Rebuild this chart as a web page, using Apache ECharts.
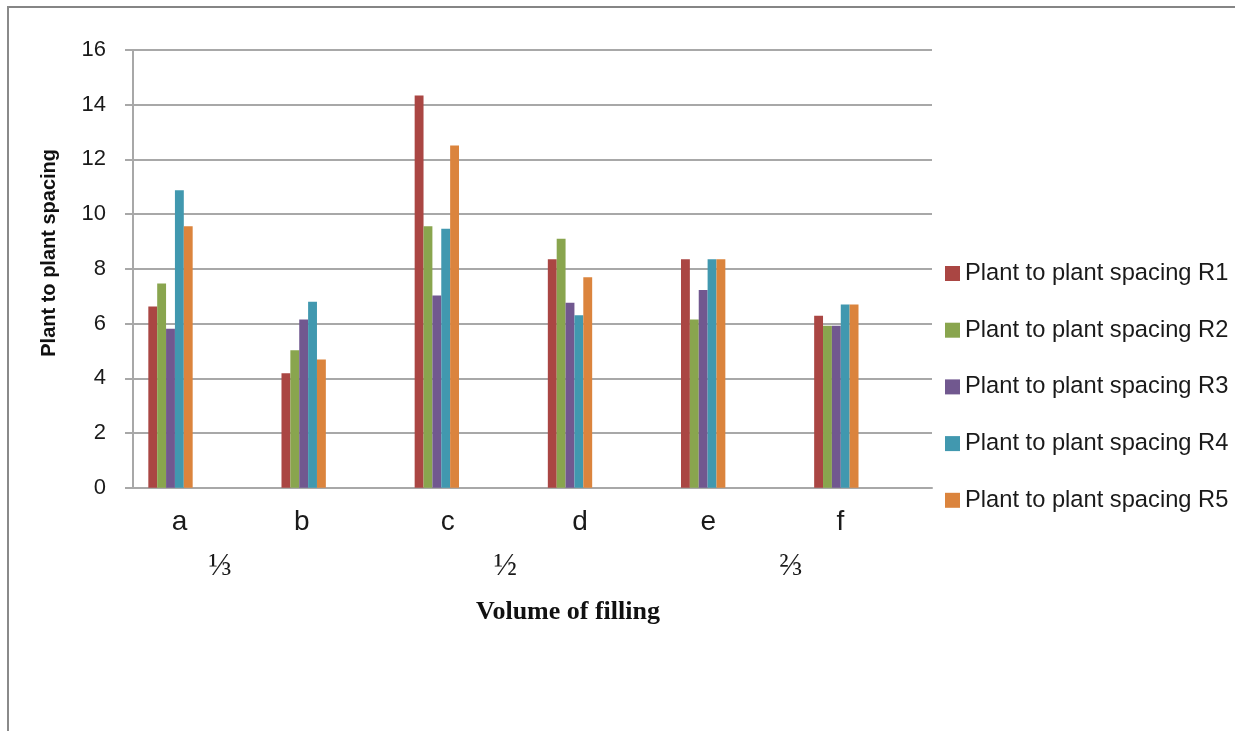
<!DOCTYPE html>
<html>
<head>
<meta charset="utf-8">
<title>Plant to plant spacing</title>
<script src="https://cdn.jsdelivr.net/npm/echarts/dist/echarts.min.js"></script>
<style>
  html, body { margin: 0; padding: 0; background: #ffffff; }
  #chart { width: 1235px; height: 731px; }
</style>
</head>
<body>
<div id="chart"></div>
<script>
// Categories along the x axis and the filling-volume groups beneath them
const categories = ['a', 'b', 'c', 'd', 'e', 'f'];
const fillingGroups = ['\u2153', '\u00BD', '\u2154'];

// Replicate series
const seriesNames = [
  'Plant to plant spacing R1',
  'Plant to plant spacing R2',
  'Plant to plant spacing R3',
  'Plant to plant spacing R4',
  'Plant to plant spacing R5'
];
const spacingR1 = [6.62, 4.18, 14.34, 8.35, 8.35, 6.29];
const spacingR2 = [7.46, 5.02, 9.56, 9.10, 6.15, 5.92];
const spacingR3 = [5.81, 6.15, 7.03, 6.76, 7.23, 5.92];
const spacingR4 = [10.87, 6.80, 9.47, 6.30, 8.35, 6.70];
const spacingR5 = [9.56, 4.69, 12.51, 7.69, 8.35, 6.70];

// Value axis range and step
const yMin = 0;
const yMax = 16;
const yStep = 2;

// ---- layout & style ----
const colors = ['#AA4643', '#89A54E', '#71588F', '#4198AF', '#DB843D'];
const sansFont = "'Liberation Sans', Arial, sans-serif";
const serifFont = "'Liberation Serif', 'DejaVu Serif', 'Times New Roman', serif";
const gridColor = '#a8a8a8';

const plotTop = 50;
const plotBottom = 731 - 487.7;
const bandWidth = 799 / 6;
// small horizontal nudges for the category and group labels (px)
const catLabelShift = [9, -2, 11, 10, 5, 4];
const groupLabelShift = [-17, 2, 21];

function shiftedRich(shifts, base) {
  const rich = {};
  shifts.forEach(function (d, i) {
    rich['s' + i] = Object.assign({}, base, {
      padding: d >= 0 ? [0, 0, 0, 2 * d] : [0, -2 * d, 0, 0]
    });
  });
  return rich;
}

const catLabelStyle = { fontFamily: sansFont, fontSize: 28, color: '#1a1a1a' };
const groupLabelStyle = { fontFamily: serifFont, fontSize: 31, color: '#1a1a1a' };

const seriesData = [spacingR1, spacingR2, spacingR3, spacingR4, spacingR5];

const chart = echarts.init(document.getElementById('chart'), null, { renderer: 'canvas' });

chart.setOption({
  backgroundColor: '#ffffff',
  animation: false,
  color: colors,
  grid: [
    // frame with the value axis and gridlines
    { left: 133, right: 1235 - 932, top: plotTop, bottom: plotBottom, outerBoundsMode: 'none' },
    // bar clusters
    { left: 170.5 - bandWidth / 2, width: bandWidth * 6, top: plotTop, bottom: plotBottom, outerBoundsMode: 'none' }
  ],
  xAxis: [
    {
      gridIndex: 0, type: 'category', data: categories,
      axisLine: { show: true, lineStyle: { color: gridColor, width: 2 } },
      axisTick: { show: false }, axisLabel: { show: false }, splitLine: { show: false }
    },
    {
      gridIndex: 1, type: 'category', data: categories, position: 'bottom',
      axisLine: { show: false }, axisTick: { show: false }, splitLine: { show: false },
      axisLabel: {
        margin: 21,
        formatter: function (v, i) { return '{s' + i + '|' + v + '}'; },
        rich: shiftedRich(catLabelShift, catLabelStyle)
      }
    },
    {
      gridIndex: 1, type: 'category', data: fillingGroups, position: 'bottom',
      axisLine: { show: false }, axisTick: { show: false }, splitLine: { show: false },
      axisLabel: {
        margin: 64,
        formatter: function (v, i) { return '{s' + i + '|' + v + '}'; },
        rich: shiftedRich(groupLabelShift, groupLabelStyle)
      }
    }
  ],
  yAxis: [
    {
      gridIndex: 0, type: 'value', min: yMin, max: yMax, interval: yStep,
      name: 'Plant to plant spacing',
      nameLocation: 'middle', nameRotate: 90, nameGap: 74,
      nameTextStyle: {
        fontFamily: sansFont, fontWeight: 'bold', fontSize: 20, color: '#111',
        padding: [0, 0, 0, 32]
      },
      axisLine: { show: true, lineStyle: { color: gridColor, width: 2 } },
      axisTick: { show: true, inside: false, length: 8, lineStyle: { color: gridColor, width: 2 } },
      axisLabel: { margin: 27, fontFamily: sansFont, fontSize: 22, color: '#1a1a1a' },
      splitLine: { show: true, lineStyle: { color: gridColor, width: 2 } }
    },
    { gridIndex: 1, type: 'value', min: yMin, max: yMax, interval: yStep, show: false }
  ],
  legend: {
    orient: 'vertical',
    left: 940,
    top: 256.5,
    itemWidth: 15,
    itemHeight: 15,
    itemGap: 32.7,
    icon: 'rect',
    data: seriesNames,
    textStyle: { fontFamily: sansFont, fontSize: 23.7, lineHeight: 24, color: '#1a1a1a' }
  },
  series: seriesNames.map(function (name, i) {
    return {
      name: name,
      type: 'bar',
      xAxisIndex: 1,
      yAxisIndex: 1,
      barWidth: 8.87,
      barGap: '0%',
      data: seriesData[i],
      itemStyle: { color: colors[i] }
    };
  }),
  graphic: [
    {
      type: 'text', x: 568, y: 612,
      style: {
        text: 'Volume of filling',
        font: 'bold 26px ' + serifFont,
        fill: '#111',
        textAlign: 'center',
        textVerticalAlign: 'middle'
      }
    },
    // outer frame edges
    { type: 'line', shape: { x1: 7, y1: 7, x2: 1235, y2: 7 }, style: { stroke: '#858585', lineWidth: 2 } },
    { type: 'line', shape: { x1: 8, y1: 6, x2: 8, y2: 731 }, style: { stroke: '#8a8a8a', lineWidth: 2 } }
  ]
});
</script>
</body>
</html>
